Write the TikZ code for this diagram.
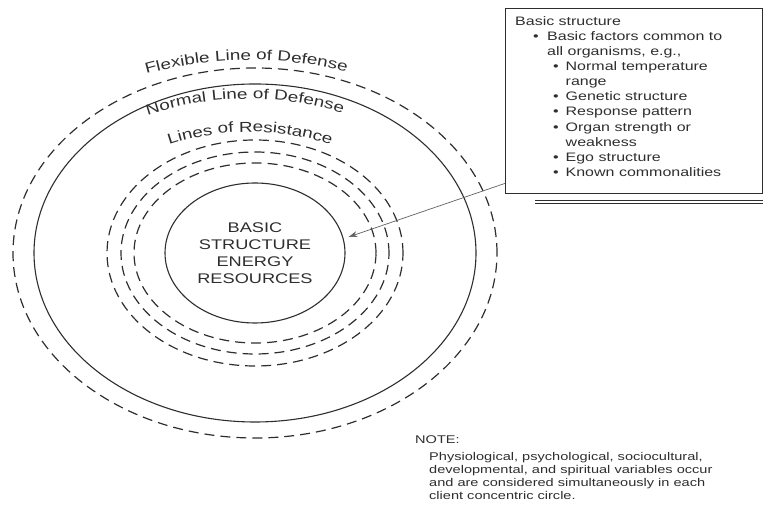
\documentclass[tikz,border=0pt]{standalone}
\usepackage{fontspec}
\setmainfont{Liberation Sans}[FakeStretch=1.3]
\newfontfamily\notefamily{Liberation Sans}[FakeStretch=1.3]
\usetikzlibrary{decorations.text,arrows.meta,shapes.geometric}
\definecolor{ink}{gray}{0.18}
\definecolor{arrowgray}{gray}{0.38}
\newcommand\curvefont{\fontsize{14.5}{17}\selectfont}
\newcommand\boxfont{\fontsize{12.3}{15.1}\selectfont}
\newcommand\corefont{\fontsize{14}{17}\selectfont}
\newcommand\notefont{\notefamily\fontsize{11.2}{12.9}\selectfont}
\newcommand\bul[2]{\hspace*{#1}\makebox[#2][l]{\textbullet}}
\begin{document}
\begin{tikzpicture}[x=1pt,y=1pt,
  dashring/.style={draw=ink, line width=1.2pt, dash pattern=on 10pt off 6pt},
  solidring/.style={draw=ink, line width=1.1pt},
  curvelabel/.style={decorate, decoration={text along path, text align=center, text color=ink, text={|\curvefont|#1}}},
  core/.style={ellipse, draw=ink, line width=1.1pt, minimum width=180pt, minimum height=140pt, inner sep=0pt, align=center, font=\corefont, text=ink},
  boxframe/.style={draw=ink, line width=1.4pt, anchor=north west, minimum width=256.5pt, minimum height=185pt, inner sep=0pt},
  boxtext/.style={anchor=north west, inner sep=0pt, align=left, font=\boxfont, text=ink},
  notetext/.style={anchor=north west, inner sep=0pt, align=left, font=\notefont, text=ink},
  pointer/.style={draw=arrowgray, line width=0.7pt, -{Stealth[length=9pt,width=6pt]}}
]
\useasboundingbox (0,0) rectangle (763,508);
\coordinate (C) at (255,255);
\draw[dashring] (C) ellipse[x radius=242pt, y radius=185pt];
\draw[solidring] (C) ellipse[x radius=221pt, y radius=169pt];
\draw[dashring] (C) ellipse[x radius=148pt, y radius=113pt];
\draw[dashring] (C) ellipse[x radius=134pt, y radius=101pt];
\draw[dashring] (C) ellipse[x radius=121pt, y radius=90pt];
\node[core] (core) at (C) {BASIC\\STRUCTURE\\ENERGY\\RESOURCES};

\coordinate (cF) at (250,255);
\coordinate (cN) at (248,255);
\coordinate (cR) at (250,255);
\path[curvelabel={Flexible Line of Defense}] ([shift={(151:277pt and 193pt)}]cF) arc[start angle=151, end angle=31, x radius=277pt, y radius=193pt];
\path[curvelabel={Normal Line of Defense}] ([shift={(151:225pt and 154pt)}]cN) arc[start angle=151, end angle=31, x radius=225pt, y radius=154pt];
\path[curvelabel={Lines of Resistance}] ([shift={(150:180pt and 121pt)}]cR) arc[start angle=150, end angle=30, x radius=180pt, y radius=121pt];

\node[boxframe] (box) at (505,500) {};
\draw[ink, line width=0.9pt, double distance=2pt] ([shift={(30pt,-8pt)}]box.south west) -- ([shift={(2pt,-8pt)}]box.south east);
\node[boxtext] (boxtext) at (515,491.8) {Basic structure\\
\bul{18pt}{14pt}Basic factors common to\\
\hspace*{32pt}all organisms, e.g.,\\
\bul{38pt}{12.5pt}Normal temperature\\
\hspace*{50.5pt}range\\
\bul{38pt}{12.5pt}Genetic structure\\
\bul{38pt}{12.5pt}Response pattern\\
\bul{38pt}{12.5pt}Organ strength or\\
\hspace*{50.5pt}weakness\\
\bul{38pt}{12.5pt}Ego structure\\
\bul{38pt}{12.5pt}Known commonalities};
\draw[pointer] ([yshift=11pt]box.south west) -- ([shift={(3pt,16pt)}]core.east);

\node[notetext] (note) at (415,72.7) {NOTE:\\[4.7pt]
\hspace*{14pt}Physiological, psychological, sociocultural,\\
\hspace*{14pt}developmental, and spiritual variables occur\\
\hspace*{14pt}and are considered simultaneously in each\\
\hspace*{14pt}client concentric circle.};
\end{tikzpicture}
\end{document}
